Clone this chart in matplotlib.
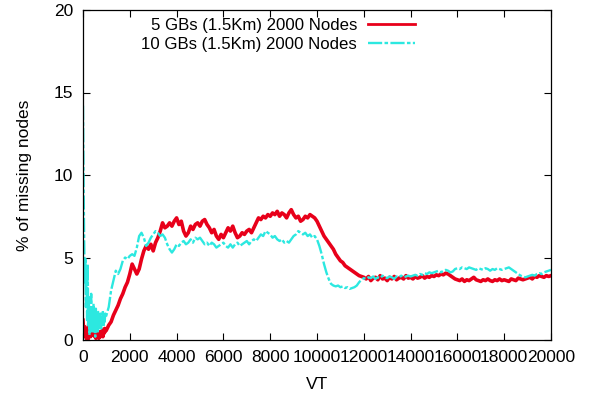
import matplotlib
matplotlib.use("Agg")
import matplotlib.pyplot as plt

# x positions: fine steps for the first 1000 VT, then every 100 VT
vt_early = list(range(0, 1000, 25))
vt_main = list(range(1000, 20001, 100))

red_early = [1.2, 0.6, 0.3, 0.8, 0.2, 0.5, 0.1, 0.4, 0.0, 0.6, 1.1, 0.3, 0.7, 0.2, 1.3, 0.5, 0.9, 0.3, 1.0, 0.4,
             0.2, 0.6, 0.1, 0.5, 0.3, 0.2, 0.4, 0.1, 0.3, 0.5, 0.2, 0.4, 0.3, 0.6, 0.2, 0.5, 0.4, 0.7, 0.5, 0.6]
red_main = [
    0.6, 0.9, 1.1, 1.5, 1.8, 2.1, 2.5, 2.8, 3.2, 3.5,
    4.0, 4.6, 4.3, 4.0, 4.3, 4.9, 5.4, 5.7, 5.5, 5.8,
    5.4, 5.9, 6.2, 6.6, 7.1, 6.8, 6.9, 7.1, 6.9, 7.2,
    7.4, 7.0, 7.2, 6.6, 6.3, 6.5, 6.9, 6.7, 7.0, 7.1,
    6.9, 7.2, 7.3, 7.0, 6.8, 6.5, 6.7, 6.3, 6.1, 6.4,
    6.2, 6.5, 6.8, 6.6, 6.9, 6.5, 6.2, 6.3, 6.5, 6.4,
    6.6, 6.7, 6.5, 6.8, 7.1, 7.4, 7.3, 7.5, 7.4, 7.6,
    7.5, 7.7, 7.6, 7.8, 7.5, 7.7, 7.6, 7.4, 7.7, 7.9,
    7.6, 7.4, 7.5, 7.2, 7.3, 7.5, 7.4, 7.6, 7.5, 7.4,
    7.2, 6.9, 6.6, 6.3, 6.1, 5.9, 5.7, 5.5, 5.2, 5.0,
    4.8, 4.7, 4.5, 4.4, 4.3, 4.2, 4.1, 4.0, 3.9, 3.85,
    3.8, 3.7, 3.85, 3.6, 3.75, 3.8, 3.65, 3.9, 3.7, 3.75,
    3.6, 3.8, 3.7, 3.85, 3.65, 3.75, 3.8, 3.7, 3.9, 3.75,
    3.8, 3.7, 3.85, 3.75, 3.8, 3.9, 3.75, 3.85, 3.8, 3.9,
    3.85, 3.95, 3.9, 4.0, 3.95, 4.05, 4.0, 3.9, 3.8, 3.7,
    3.65, 3.6, 3.7, 3.55, 3.65, 3.6, 3.7, 3.8, 3.65, 3.6,
    3.55, 3.65, 3.6, 3.7, 3.6, 3.55, 3.65, 3.6, 3.7, 3.6,
    3.65, 3.6, 3.55, 3.7, 3.65, 3.6, 3.75, 3.7, 3.65, 3.7,
    3.75, 3.8, 3.7, 3.85, 3.8, 3.9, 3.85, 3.8, 3.9, 3.85,
    3.9]

cyan_early = [14.2, 9.5, 6.0, 3.5, 5.0, 2.0, 3.8, 1.2, 4.6, 0.8, 2.6, 0.3, 2.0, 0.9, 2.8, 0.4, 1.7, 0.6, 2.2, 0.5,
              1.5, 0.2, 1.9, 0.8, 1.3, 0.4, 1.7, 0.6, 1.2, 0.9, 1.6, 0.7, 1.4, 1.0, 1.8, 0.8, 1.3, 1.1, 1.6, 1.4]
cyan_main = [
    1.5, 2.0, 3.0, 3.6, 4.2, 4.0, 4.3, 4.8, 5.0, 4.9,
    5.1, 5.2, 5.1, 5.6, 6.3, 6.5, 6.2, 5.7, 5.9, 6.2,
    6.4, 6.6, 6.5, 6.3, 6.4, 6.2, 5.8, 5.5, 5.3, 5.5,
    5.8, 5.7, 5.9, 6.0, 5.8, 5.9, 6.1, 5.9, 6.2, 6.1,
    6.2, 6.0, 5.8, 5.9, 5.7, 5.9, 5.8, 5.6, 5.7, 5.8,
    5.9, 5.7, 5.6, 5.8, 5.6, 5.8, 5.9, 5.7, 5.8, 5.9,
    6.0, 5.8, 6.0, 6.1, 6.0, 6.2, 6.4, 6.3, 6.6, 6.5,
    6.4, 6.2, 6.3, 6.1, 6.0, 6.1, 5.9, 6.0, 5.9, 6.1,
    6.3, 6.4, 6.6, 6.5, 6.4, 6.5, 6.3, 6.4, 6.2, 6.3,
    6.1, 5.7, 5.2, 4.6, 4.1, 3.7, 3.4, 3.3, 3.25, 3.3,
    3.2, 3.25, 3.15, 3.2, 3.1, 3.15, 3.2, 3.3, 3.5, 3.65,
    3.75, 3.7, 3.8, 3.75, 3.85, 3.7, 3.8, 3.75, 3.9, 3.8,
    3.75, 3.85, 3.8, 3.7, 3.85, 3.8, 3.9, 3.8, 3.85, 3.9,
    3.85, 3.9, 3.95, 3.9, 4.0, 3.95, 4.05, 4.0, 4.1, 4.05,
    4.1, 4.15, 4.2, 4.1, 4.2, 4.25, 4.2, 4.1, 4.15, 4.3,
    4.35, 4.3, 4.4, 4.35, 4.3, 4.4, 4.35, 4.3, 4.25, 4.35,
    4.3, 4.25, 4.35, 4.3, 4.2, 4.3, 4.25, 4.35, 4.3, 4.25,
    4.3, 4.35, 4.4, 4.3, 4.2, 4.1, 4.0, 3.9, 3.85, 3.8,
    3.85, 3.9, 3.95, 3.9, 4.0, 4.05, 4.0, 4.1, 4.15, 4.2,
    4.25]

labels = ["5 GBs (1.5Km) 2000 Nodes", "10 GBs (1.5Km) 2000 Nodes"]
xticks = list(range(0, 20001, 2000))
yticks = [0, 5, 10, 15, 20]

vt = vt_early + vt_main
red = red_early + red_main
cyan = cyan_early + cyan_main

plt.rcParams['font.family'] = ['Liberation Sans', 'DejaVu Sans']
FS = 12.5
LFS = 12.1
fig = plt.figure(figsize=(6.03, 3.98), dpi=100)
ax = fig.add_axes([83 / 603, 1 - 340 / 398, 468 / 603, 330 / 398])

ax.plot(vt, red, color='#e8001a', lw=2.6, label=labels[0])
ax.plot(vt, cyan, color='#2ce8e0', lw=1.7, dashes=(6, 1, 1.5, 1), label=labels[1])

ax.set_xlim(0, 20000)
ax.set_ylim(0, 20)
ax.set_xticks(xticks)
ax.set_yticks(yticks)
ax.tick_params(direction='in', length=5, width=0.8, top=True, right=True, labelsize=FS, pad=7)
for s in ax.spines.values():
    s.set_linewidth(0.9)
ax.set_xlabel("VT", fontsize=FS, labelpad=9)
ax.set_ylabel("% of missing nodes", fontsize=FS, labelpad=16)

leg = ax.legend(loc='upper right', bbox_to_anchor=((415 - 83) / 468, 0.975), frameon=False,
                markerfirst=False, handlelength=2.8, handletextpad=0.65, labelspacing=0.22,
                borderpad=0, borderaxespad=0, fontsize=LFS)
leg.get_lines()[0].set_linewidth(2.0)

fig.savefig("out.png", dpi=100)
